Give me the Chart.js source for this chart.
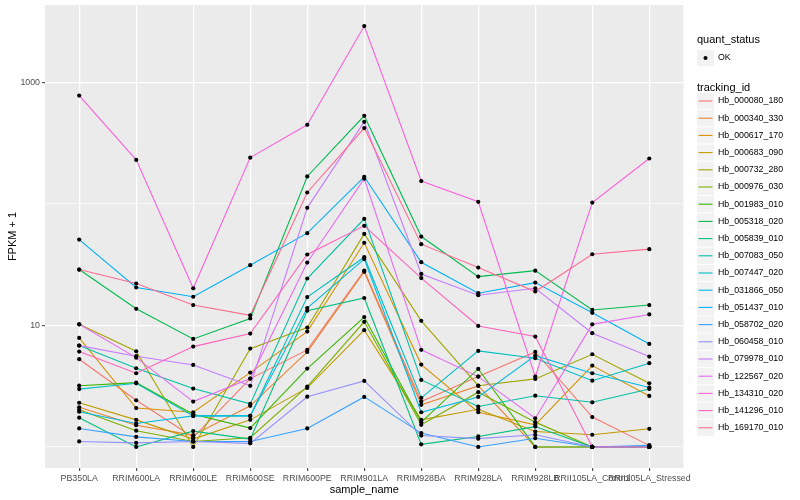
<!DOCTYPE html>
<html>
<head>
<meta charset="utf-8">
<title>FPKM by sample</title>
<script src="https://cdn.jsdelivr.net/npm/chart.js@4.4.0/dist/chart.umd.min.js"></script>
<style>
  html, body { margin: 0; padding: 0; background: #ffffff; }
  canvas { display: block; }
</style>
</head>
<body>
<canvas id="fpkmChart" width="800" height="500"></canvas>
<script>
// Categories on the x axis
const samples = ['PB350LA', 'RRIM600LA', 'RRIM600LE', 'RRIM600SE', 'RRIM600PE', 'RRIM901LA',
                 'RRIM928BA', 'RRIM928LA', 'RRIM928LB', 'RRII105LA_Control', 'RRII105LA_Stressed'];

// Genes (one line each) and their ggplot hue colours
const trackingIds = ['Hb_000080_180', 'Hb_000340_330', 'Hb_000617_170', 'Hb_000683_090', 'Hb_000732_280',
                     'Hb_000976_030', 'Hb_001983_010', 'Hb_005318_020', 'Hb_005839_010', 'Hb_007083_050',
                     'Hb_007447_020', 'Hb_031866_050', 'Hb_051437_010', 'Hb_058702_020', 'Hb_060458_010',
                     'Hb_079978_010', 'Hb_122567_020', 'Hb_134310_020', 'Hb_141296_010', 'Hb_169170_010'];
const lineColors = ['#F8766D', '#EA8331', '#D89000', '#C09B00', '#A3A500', '#7CAE00', '#39B600', '#00BB4E',
                    '#00BF7D', '#00C1A3', '#00BFC4', '#00BAE0', '#00B0F6', '#35A2FF', '#9590FF', '#C77CFF',
                    '#E76BF3', '#FA62DB', '#FF62BC', '#FF6C91'];

// FPKM + 1 per sample
const hb_000080_180 = [5.27, 2.42, 1.20, 3.65, 6.29, 28.2, 2.36, 3.79, 6.05, 1.76, 1.03];
const hb_000340_330 = [2.12, 1.51, 1.25, 2.18, 6.05, 27.6, 2.22, 3.18, 1, 1, 1];
const hb_000617_170 = [7.89, 2.09, 1.93, 4.09, 8.89, 47.8, 4.76, 1.93, 1.52, 4.67, 2.63];
const hb_000683_090 = [2.31, 1.67, 1.16, 1.67, 3.06, 9.13, 1.67, 2.04, 1.34, 1.26, 1.41];
const hb_000732_280 = [10.2, 6.13, 1, 6.44, 9.59, 56.6, 10.9, 3.19, 3.63, 5.79, 3.34];
const hb_000976_030 = [2.02, 1.36, 1.11, 1.19, 3.13, 10.7, 1.52, 2.82, 1.60, 1, 1];
const hb_001983_010 = [3.19, 3.38, 1.86, 1.43, 4.41, 11.7, 1.60, 4.38, 1, 1, 1];
const hb_005318_020 = [28.8, 13.7, 7.74, 11.4, 168, 530, 53.8, 25.2, 28.2, 13.4, 14.7];
const hb_005839_010 = [1.74, 1, 1.35, 1.16, 13.2, 16.8, 1.05, 1.22, 1.47, 1, 1];
const hb_007083_050 = [6.82, 4.44, 3.02, 2.26, 24.3, 75.2, 3.56, 2.15, 2.64, 2.33, 3.00];
const hb_007447_020 = [2.99, 3.34, 1.80, 1.80, 17.1, 36.4, 2.53, 6.17, 5.37, 3.51, 4.89];
const hb_031866_050 = [1.95, 1.56, 1.80, 1.80, 13.9, 35.1, 1.93, 2.58, 5.64, 4.04, 3.08];
const hb_051437_010 = [50.8, 20.5, 17.2, 31.3, 57.4, 167, 33.1, 18.4, 22.5, 12.7, 7.04];
const hb_058702_020 = [1.42, 1.21, 1.11, 1.11, 1.42, 2.58, 1.30, 1, 1.18, 1, 1.03];
const hb_060458_010 = [1.11, 1.08, 1.11, 1.07, 2.59, 3.49, 1.24, 1.17, 1.26, 1, 1];
const hb_079978_010 = [6.82, 5.58, 4.73, 3.18, 92.7, 473, 26.5, 17.7, 20.2, 8.63, 5.54];
const hb_122567_020 = [10.2, 5.43, 2.36, 3.65, 32.9, 161, 6.29, 3.79, 1.72, 10.2, 12.3];
const hb_134310_020 = [778, 230, 20.2, 240, 447, 2901, 154, 104, 3.79, 102.5, 236];
const hb_141296_010 = [6.09, 4.04, 6.69, 8.56, 38.3, 65.9, 24.5, 9.9, 8.09, 1, 1];
const hb_169170_010 = [28.8, 22.1, 14.7, 12.1, 124, 420, 46.6, 29.9, 19.0, 38.5, 42.4];

const seriesValues = [hb_000080_180, hb_000340_330, hb_000617_170, hb_000683_090, hb_000732_280,
                      hb_000976_030, hb_001983_010, hb_005318_020, hb_005839_010, hb_007083_050,
                      hb_007447_020, hb_031866_050, hb_051437_010, hb_058702_020, hb_060458_010,
                      hb_079978_010, hb_122567_020, hb_134310_020, hb_141296_010, hb_169170_010];

// log10 axis: grid at every decade, labels only on 10 and 1000
const yTicks = [1, 10, 100, 1000];
const yLabelled = [10, 1000];

const FONT = '"Liberation Sans", Arial, Helvetica, sans-serif';
Chart.defaults.font.family = FONT;

// grey panel behind the grid
const panelBg = {
    id: 'panelBg',
    beforeDraw(chart) {
        const {ctx, chartArea: a} = chart;
        ctx.save();
        ctx.fillStyle = '#EBEBEB';
        ctx.fillRect(a.left, a.top, a.right - a.left, a.bottom - a.top);
        ctx.restore();
    }
};

// ggplot-like legend on the right
const ggLegend = {
    id: 'ggLegend',
    afterDraw(chart) {
        const ctx = chart.ctx;
        const x0 = 697, kw = 17, kh = 17.2;
        ctx.save();
        ctx.textBaseline = 'middle';
        ctx.textAlign = 'left';

        ctx.fillStyle = '#000';
        ctx.font = '11px ' + FONT;
        ctx.fillText('quant_status', x0, 40);
        ctx.fillStyle = '#F2F2F2';
        ctx.fillRect(x0, 58 - kh / 2 + 0.5, kw, kh - 1);
        ctx.fillStyle = '#000';
        ctx.beginPath();
        ctx.arc(x0 + kw / 2, 58, 2, 0, Math.PI * 2);
        ctx.fill();
        ctx.font = '8.8px ' + FONT;
        ctx.fillText('OK', x0 + kw + 4, 58);

        ctx.font = '11px ' + FONT;
        ctx.fillText('tracking_id', x0, 88);
        ctx.font = '8.8px ' + FONT;
        trackingIds.forEach((id, i) => {
            const cy = 101 + i * 17.2;
            ctx.fillStyle = '#F2F2F2';
            ctx.fillRect(x0, cy - kh / 2 + 0.5, kw, kh - 1);
            ctx.strokeStyle = lineColors[i];
            ctx.lineWidth = 1.1;
            ctx.beginPath();
            ctx.moveTo(x0 + 1.5, cy);
            ctx.lineTo(x0 + kw - 1.5, cy);
            ctx.stroke();
            ctx.fillStyle = '#000';
            ctx.fillText(id, x0 + kw + 4, cy);
        });
        ctx.restore();
    }
};

const datasets = seriesValues.map((vals, i) => ({
    type: 'line',
    label: trackingIds[i],
    data: vals.map((v, j) => ({x: j, y: v})),
    borderColor: lineColors[i],
    borderWidth: 1.1,
    pointRadius: 0,
    fill: false,
    tension: 0,
    order: 100 - i
}));
// the black "OK" points sit on top of every line
datasets.push({
    type: 'scatter',
    label: 'OK',
    data: seriesValues.flatMap(vals => vals.map((v, j) => ({x: j, y: v}))),
    pointRadius: 2.1,
    pointBackgroundColor: '#000000',
    pointBorderWidth: 0,
    showLine: false,
    order: 0
});

const ctx = document.getElementById('fpkmChart').getContext('2d');
const fpkmChart = new Chart(ctx, {
    type: 'line',
    data: {datasets: datasets},
    plugins: [panelBg, ggLegend],
    options: {
        responsive: false,
        animation: false,
        layout: {padding: {top: 5, right: 116.5, left: 0, bottom: 0}},
        plugins: {legend: {display: false}, tooltip: {enabled: false}},
        scales: {
            x: {
                type: 'linear',
                min: -0.6,
                max: samples.length - 1 + 0.6,
                afterBuildTicks: s => { s.ticks = samples.map((_, i) => ({value: i})); },
                afterFit: s => { s.height = 32; s.paddingLeft = 0; s.paddingRight = 0; },
                ticks: {
                    autoSkip: false, maxRotation: 0, minRotation: 0, padding: 2,
                    color: '#4D4D4D', font: {size: 8.8},
                    callback: v => samples[v]
                },
                grid: {color: '#FFFFFF', lineWidth: 1.3, tickLength: 3, tickColor: '#333333', tickWidth: 1},
                border: {display: false},
                title: {display: true, text: 'sample_name', color: '#000', font: {size: 11}, padding: {top: 0, bottom: 3.4}}
            },
            y: {
                type: 'logarithmic',
                min: 0.671,
                max: 4325,
                afterBuildTicks: s => { s.ticks = yTicks.map(v => ({value: v})); },
                afterFit: s => { s.width = 45; s.paddingTop = 0; s.paddingBottom = 0; },
                ticks: {
                    autoSkip: false, padding: 2, color: '#4D4D4D', font: {size: 8.8},
                    callback: v => yLabelled.includes(v) ? String(v) : ''
                },
                grid: {
                    color: '#FFFFFF',
                    lineWidth: c => (c.tick && yLabelled.includes(c.tick.value)) ? 1.3 : 0.7,
                    tickLength: 3,
                    tickColor: c => (c.tick && yLabelled.includes(c.tick.value)) ? '#333333' : 'rgba(0,0,0,0)',
                    tickWidth: 1
                },
                border: {display: false},
                title: {display: true, text: 'FPKM + 1', color: '#000', font: {size: 11}, padding: {top: 6.4, bottom: 0}}
            }
        }
    }
});
</script>
</body>
</html>
